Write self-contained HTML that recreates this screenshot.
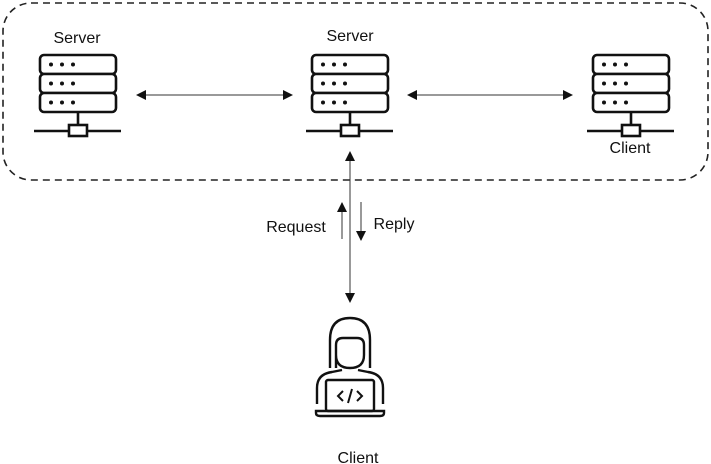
<!DOCTYPE html>
<html><head><meta charset="utf-8"><style>
html,body{margin:0;padding:0;background:#fff;}
svg{display:block;}
text{font-family:"Liberation Sans",sans-serif;font-size:16px;fill:#111;}
</style></head><body>
<svg width="711" height="464" viewBox="0 0 711 464" xmlns="http://www.w3.org/2000/svg">
<defs>
<g id="srv" fill="none" stroke="#111" stroke-width="2.6">
  <rect x="0" y="0" width="76" height="19" rx="4" fill="#fff"/>
  <rect x="0" y="19" width="76" height="19" rx="4" fill="#fff"/>
  <rect x="0" y="38" width="76" height="19" rx="4" fill="#fff"/>
  <g fill="#111" stroke="none">
    <circle cx="11" cy="9.5" r="2"/><circle cx="22" cy="9.5" r="2"/><circle cx="33" cy="9.5" r="2"/>
    <circle cx="11" cy="28.5" r="2"/><circle cx="22" cy="28.5" r="2"/><circle cx="33" cy="28.5" r="2"/>
    <circle cx="11" cy="47.5" r="2"/><circle cx="22" cy="47.5" r="2"/><circle cx="33" cy="47.5" r="2"/>
  </g>
  <line x1="38" y1="57" x2="38" y2="70"/>
  <line x1="-6" y1="76" x2="81" y2="76"/>
  <rect x="29" y="70" width="18" height="11" fill="#fff"/>
</g>
<marker id="ah" markerWidth="10" markerHeight="10" refX="9" refY="5" orient="auto-start-reverse" markerUnits="userSpaceOnUse">
  <path d="M0,0 L10,5 L0,10 Z" fill="#111"/>
</marker>
</defs>
<rect x="3" y="3" width="705" height="177" rx="28" fill="none" stroke="#222" stroke-width="1.6" stroke-dasharray="7,5"/>
<text x="77" y="43" text-anchor="middle">Server</text>
<text x="350" y="41" text-anchor="middle">Server</text>
<text x="630" y="153" text-anchor="middle">Client</text>
<use href="#srv" x="40" y="55"/>
<use href="#srv" x="312" y="55"/>
<use href="#srv" x="593" y="55"/>
<line x1="137" y1="95" x2="292" y2="95" stroke="#333" stroke-width="1" marker-start="url(#ah)" marker-end="url(#ah)"/>
<line x1="408" y1="95" x2="572" y2="95" stroke="#333" stroke-width="1" marker-start="url(#ah)" marker-end="url(#ah)"/>
<line x1="350" y1="152" x2="350" y2="302" stroke="#333" stroke-width="1" marker-start="url(#ah)" marker-end="url(#ah)"/>
<line x1="342" y1="239" x2="342" y2="203" stroke="#555" stroke-width="1.2" marker-end="url(#ah)"/>
<line x1="361" y1="202" x2="361" y2="240" stroke="#555" stroke-width="1.2" marker-end="url(#ah)"/>
<text x="296" y="232" text-anchor="middle">Request</text>
<text x="394" y="229" text-anchor="middle">Reply</text>
<g fill="none" stroke="#111" stroke-width="2.4">
  <path d="M330,368 L330,340 Q330,318 350,318 Q370,318 370,340 L370,368"/>
  <path d="M336,368 L336,345 Q336,338 343,338 L357,338 Q364,338 364,345 L364,355 Q364,368 350,368 Q336,368 336,355"/>
  <path d="M317,404 L317,388 Q317,374 332,372 L342,370 M358,370 L368,372 Q383,374 383,388 L383,404"/>
  <rect x="326" y="380" width="48" height="31" rx="2"/>
  <path d="M316,411 L384,411 L384,413 Q384,416 380,416 L320,416 Q316,416 316,413 Z"/>
  <path d="M343,391 L338,396 L343,401 M357,391 L362,396 L357,401 M352,389 L348,403" stroke-width="2"/>
</g>
<text x="358" y="463" text-anchor="middle">Client</text>
</svg>
</body></html>
